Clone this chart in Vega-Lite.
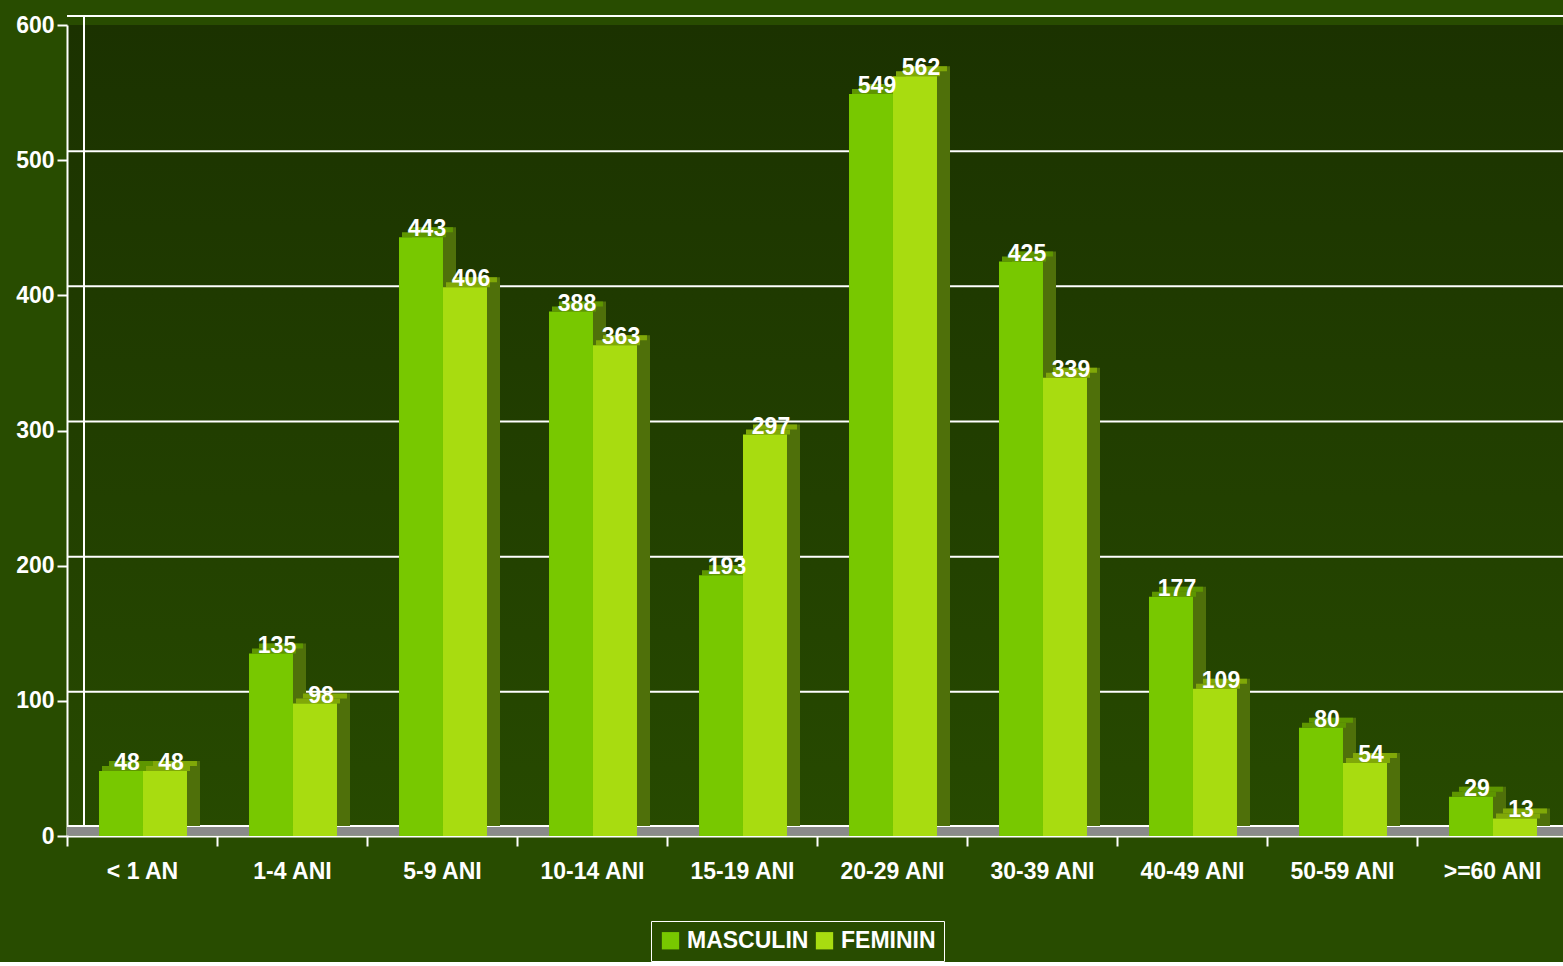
{
  "$schema": "https://vega.github.io/schema/vega-lite/v6.json",
  "width": 1500,
  "height": 811,
  "padding": {"left": 15, "top": 14, "right": 0, "bottom": 0},
  "autosize": {"type": "pad"},
  "background": "#284c00",
  "config": {
    "font": "Liberation Sans",
    "view": {"stroke": null, "fill": {"gradient": "linear", "x1": 0, "y1": 0, "x2": 0, "y2": 1, "stops": [{"offset": 0, "color": "#1b3200"}, {"offset": 1, "color": "#274a00"}]}},
    "axis": {"domainColor": "white", "domainWidth": 2, "tickColor": "white", "tickWidth": 2, "tickSize": 10, "labelColor": "white", "labelFont": "Liberation Sans", "labelFontWeight": "bold", "labelFontSize": 23, "grid": false, "title": null, "zindex": 1},
    "axisY": {"labelPadding": 3},
    "axisX": {"labelPadding": 14, "labelAngle": 0, "tickBand": "extent"},
    "legend": {"orient": "none", "legendX": 584, "legendY": 896, "direction": "horizontal", "strokeColor": "white", "padding": 8, "labelColor": "white", "labelFont": "Liberation Sans", "labelFontWeight": "bold", "labelFontSize": 23, "symbolType": "square", "symbolSize": 300, "symbolStrokeWidth": 0, "symbolOpacity": 1, "columnPadding": 4, "labelOffset": 5, "title": null}
  },
  "datasets": {
    "bars": [
      {"cat": "< 1 AN", "sex": "MASCULIN", "val": 48},
      {"cat": "< 1 AN", "sex": "FEMININ", "val": 48},
      {"cat": "1-4 ANI", "sex": "MASCULIN", "val": 135},
      {"cat": "1-4 ANI", "sex": "FEMININ", "val": 98},
      {"cat": "5-9 ANI", "sex": "MASCULIN", "val": 443},
      {"cat": "5-9 ANI", "sex": "FEMININ", "val": 406},
      {"cat": "10-14 ANI", "sex": "MASCULIN", "val": 388},
      {"cat": "10-14 ANI", "sex": "FEMININ", "val": 363},
      {"cat": "15-19 ANI", "sex": "MASCULIN", "val": 193},
      {"cat": "15-19 ANI", "sex": "FEMININ", "val": 297},
      {"cat": "20-29 ANI", "sex": "MASCULIN", "val": 549},
      {"cat": "20-29 ANI", "sex": "FEMININ", "val": 562},
      {"cat": "30-39 ANI", "sex": "MASCULIN", "val": 425},
      {"cat": "30-39 ANI", "sex": "FEMININ", "val": 339},
      {"cat": "40-49 ANI", "sex": "MASCULIN", "val": 177},
      {"cat": "40-49 ANI", "sex": "FEMININ", "val": 109},
      {"cat": "50-59 ANI", "sex": "MASCULIN", "val": 80},
      {"cat": "50-59 ANI", "sex": "FEMININ", "val": 54},
      {"cat": ">=60 ANI", "sex": "MASCULIN", "val": 29},
      {"cat": ">=60 ANI", "sex": "FEMININ", "val": 13}
    ],
    "grid": [
      {"val": 100}, {"val": 200}, {"val": 300}, {"val": 400}, {"val": 500}, {"val": 600}
    ],
    "base": [{"val": 0}]
  },
  "layer": [
    {
      "data": {"name": "grid"},
      "mark": {"type": "rule", "color": "white", "strokeWidth": 2, "xOffset": 17, "yOffset": -9},
      "encoding": {
        "y": {"field": "val", "type": "quantitative", "scale": {"domain": [0, 600], "nice": false}, "axis": {"values": [0, 100, 200, 300, 400, 500, 600]}}
      }
    },
    {
      "data": {"name": "base"},
      "mark": {"type": "rule", "color": "#8a8a8a", "strokeWidth": 9, "xOffset": 8, "yOffset": -5},
      "encoding": {
        "y": {"field": "val", "type": "quantitative", "scale": {"domain": [0, 600], "nice": false}, "axis": {"values": [0, 100, 200, 300, 400, 500, 600]}}
      }
    },
    {
      "data": {"name": "base"},
      "mark": {"type": "rule", "color": "white", "strokeWidth": 2, "xOffset": 17, "yOffset": -10},
      "encoding": {
        "y": {"field": "val", "type": "quantitative", "scale": {"domain": [0, 600], "nice": false}, "axis": {"values": [0, 100, 200, 300, 400, 500, 600]}}
      }
    },
    {
      "data": {"name": "base"},
      "mark": {"type": "rule", "color": "white", "strokeWidth": 2, "xOffset": 17, "yOffset": -9, "y2Offset": -9},
      "encoding": {
        "x": {"value": 0},
        "y": {"field": "val", "type": "quantitative", "scale": {"domain": [0, 600], "nice": false}, "axis": {"values": [0, 100, 200, 300, 400, 500, 600]}},
        "y2": {"datum": 600}
      }
    },
    {
      "data": {"name": "bars"},
      "encoding": {
        "x": {"field": "cat", "type": "nominal", "sort": ["< 1 AN", "1-4 ANI", "5-9 ANI", "10-14 ANI", "15-19 ANI", "20-29 ANI", "30-39 ANI", "40-49 ANI", "50-59 ANI", ">=60 ANI"], "scale": {"paddingInner": 0, "paddingOuter": 0}},
        "y": {"field": "val", "type": "quantitative", "scale": {"domain": [0, 600], "nice": false}, "axis": {"values": [0, 100, 200, 300, 400, 500, 600]}}
      },
      "layer": [
        {
          "mark": {"type": "bar", "color": "#4f700a", "yOffset": -10, "y2Offset": -10},
          "encoding": {
            "xOffset": {"field": "sex", "type": "nominal", "sort": ["MASCULIN", "FEMININ"], "scale": {"paddingInner": 0, "paddingOuter": 0.7045, "align": 0.726}}
          }
        },
        {
          "mark": {"type": "bar", "yOffset": -10, "y2Offset": -5},
          "encoding": {
            "xOffset": {"field": "sex", "type": "nominal", "sort": ["MASCULIN", "FEMININ"], "scale": {"paddingInner": 0, "paddingOuter": 0.7045, "align": 0.677}},
            "y2": {"field": "val"},
            "color": {"field": "sex", "type": "nominal", "scale": {"domain": ["MASCULIN", "FEMININ"], "range": ["#5e9600", "#80a808"]}, "legend": null}
          }
        },
        {
          "mark": {"type": "bar", "yOffset": -5, "y2Offset": 0},
          "encoding": {
            "xOffset": {"field": "sex", "type": "nominal", "sort": ["MASCULIN", "FEMININ"], "scale": {"paddingInner": 0, "paddingOuter": 0.7045, "align": 0.5645}},
            "y2": {"field": "val"},
            "color": {"field": "sex", "type": "nominal", "scale": {"domain": ["MASCULIN", "FEMININ"], "range": ["#5e9600", "#80a808"]}, "legend": null}
          }
        },
        {
          "encoding": {
            "xOffset": {"field": "sex", "type": "nominal", "sort": ["MASCULIN", "FEMININ"], "scale": {"paddingInner": 0, "paddingOuter": 0.7045, "align": 0.516}}
          },
          "layer": [
            {
              "mark": {"type": "bar"},
              "encoding": {
                "color": {"field": "sex", "type": "nominal", "scale": {"domain": ["MASCULIN", "FEMININ"], "range": ["#78c800", "#a8dc10"]}}
              }
            },
            {
              "mark": {"type": "text", "color": "white", "font": "Liberation Sans", "fontWeight": "bold", "fontSize": 23, "baseline": "alphabetic", "dx": 6, "dy": -1},
              "encoding": {"text": {"field": "val", "type": "quantitative"}}
            }
          ]
        }
      ],
      "resolve": {"scale": {"xOffset": "independent", "color": "independent"}}
    }
  ]
}
